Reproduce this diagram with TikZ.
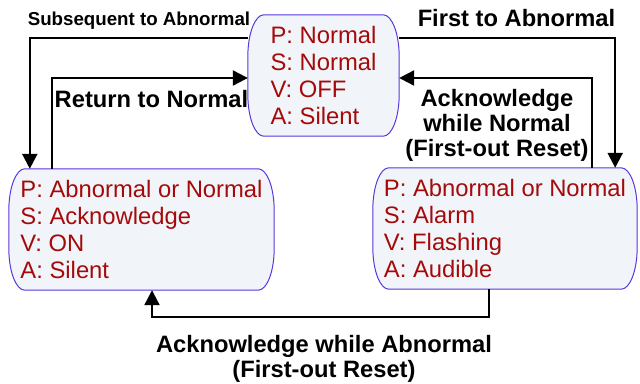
\documentclass[tikz,border=0pt]{standalone}
\usepackage{fontspec}
\setmainfont{Liberation Sans}
\usepackage{tikz}
\usetikzlibrary{positioning}
\usetikzlibrary{arrows.meta,backgrounds}

\definecolor{stateborder}{RGB}{90,55,220}
\definecolor{statefill}{RGB}{241,245,250}
\definecolor{statetext}{RGB}{165,10,10}

\tikzset{
  statebox/.style={align=left, inner sep=0pt, minimum height=121bp, text=statetext,
    font=\fontsize{23.8bp}{27bp}\selectfont},
  stateline/.style={draw=stateborder, fill=statefill, line width=1bp},
  flow/.style={line width=2.3bp, -{Triangle[length=15bp,width=15bp]}},
  lbl/.style={inner sep=0pt, align=center, font=\bfseries\fontsize{23.7bp}{25bp}\selectfont},
}

% outline with bulging sides, behind the state text
\newcommand\stateoutline[1]{%
  \begin{scope}[on background layer]
    \draw[stateline] ([xshift=16bp]#1.north west) -- ([xshift=-16bp]#1.north east)
      arc[start angle=90, end angle=0, x radius=16bp, y radius=42bp]
      -- ([yshift=42bp]#1.south east)
      arc[start angle=0, end angle=-90, x radius=16bp, y radius=42bp]
      -- ([xshift=16bp]#1.south west)
      arc[start angle=270, end angle=180, x radius=16bp, y radius=42bp]
      -- ([yshift=-42bp]#1.north west)
      arc[start angle=180, end angle=90, x radius=16bp, y radius=42bp]
      -- cycle;
  \end{scope}}

\begin{document}
\begin{tikzpicture}[x=1bp,y=1bp]
\useasboundingbox (0,0) rectangle (640,383);

\node[statebox, minimum width=151bp] (normal) at (323.5,307.5) {P: Normal\\S: Normal\\V: OFF\\A: Silent};
\node[statebox, minimum width=265bp] (ack) at (141.5,153.5) {P: Abnormal or Normal\\S: Acknowledge\\V: ON\\A: Silent};
\node[statebox, minimum width=264bp] (alarm) at (505,154.5) {P: Abnormal or Normal\\S: Alarm\\V: Flashing\\A: Audible};
\stateoutline{normal}
\stateoutline{ack}
\stateoutline{alarm}

\draw[flow] ([yshift=-23bp]normal.north west) -| ([xshift=21bp]ack.north west);
\draw[flow] ([xshift=43bp]ack.north west) |- ([yshift=-2.5bp]normal.west);
\draw[flow] ([yshift=-23bp]normal.north east) -| ([xshift=-22bp]alarm.north east);
\draw[flow] ([xshift=-45bp]alarm.north east) |- ([yshift=-2.5bp]normal.east);
\draw[flow] ([xshift=-16bp]alarm.south) -- ++(0,-28bp) -| ([xshift=10.5bp]ack.south);

\node[lbl, font=\bfseries\fontsize{18.7bp}{20bp}\selectfont, anchor=base] (subseq) at (139,357.5) {Subsequent to Abnormal};
\node[lbl, anchor=base] (first) at (516.5,357) {First to Abnormal};
\node[lbl, anchor=base] (ret) at (151.5,276) {Return to Normal};
\node[lbl, anchor=north] (acknorm) at (497,294) {Acknowledge\\while Normal\\(First-out Reset)};
\node[lbl, anchor=north] (ackabn) at (324,48) {Acknowledge while Abnormal\\(First-out Reset)};
\end{tikzpicture}
\end{document}
